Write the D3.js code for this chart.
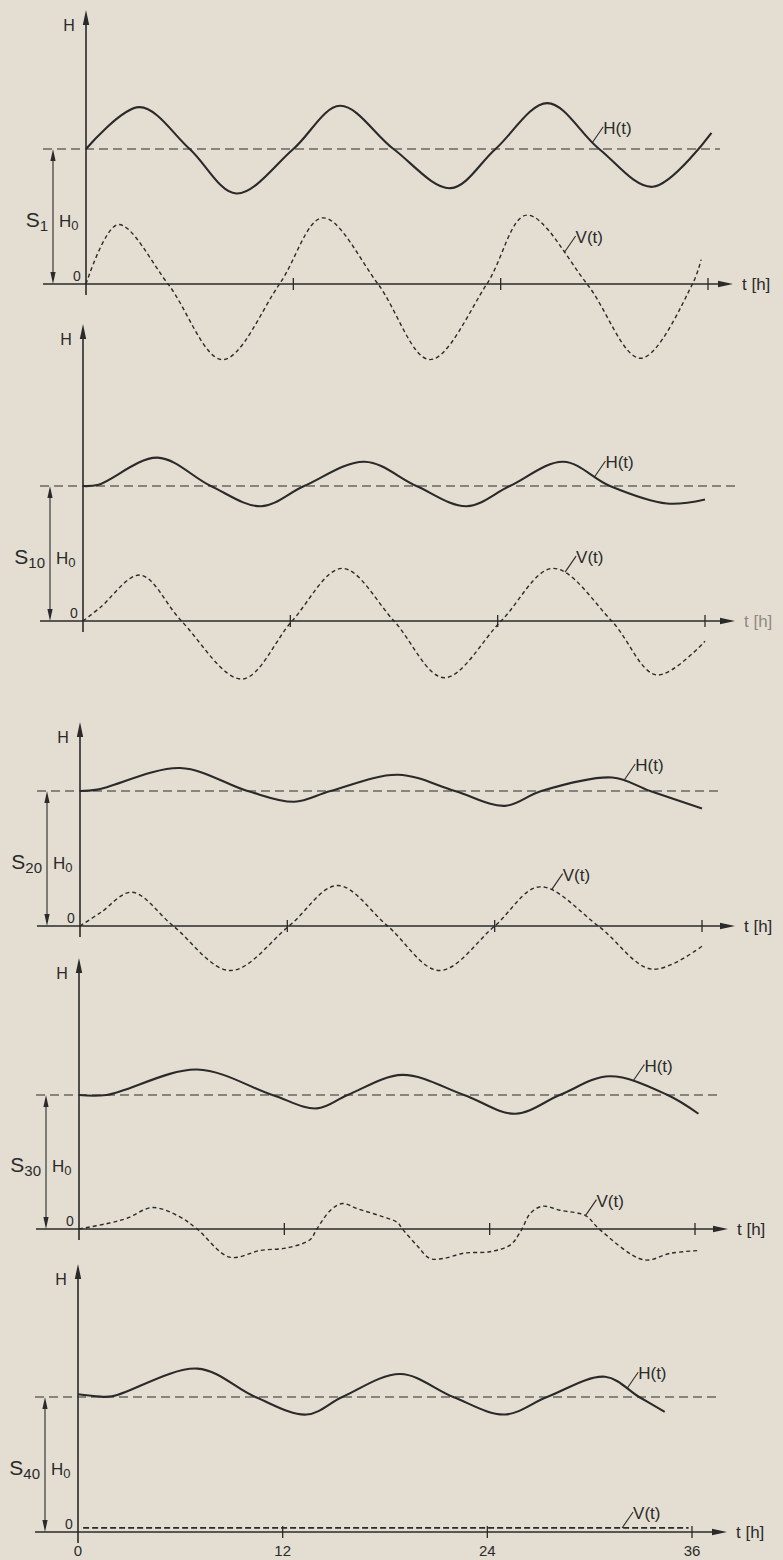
<!DOCTYPE html>
<html>
<head>
<meta charset="utf-8">
<script src="https://cdn.jsdelivr.net/npm/d3@7"></script>
<style>
  body { margin: 0; background: #e4ded2; }
  svg { display: block; }
  text { font-family: "Liberation Sans", "DejaVu Sans", sans-serif; fill: #2a2a2a; }
</style>
</head>
<body>
<div id="container"></div>
<script>
/** CONSTANTS AND GLOBALS */
const width = 783, height = 1560;
const ink = "#2a2a2a";
const paper = "#e4ded2";

/** DATA */
const hours = [0, 12, 24, 36];
const stations = ["1", "10", "20", "30", "40"];
const H0 = 10;

// H(t) readings [t in h, level], H0 = 10
const hS1 = [[0, 10], [3.1, 13.1], [6.0, 10], [8.7, 6.7], [12.0, 10], [14.7, 13.2], [17.8, 10], [21.1, 7.1], [23.7, 10], [26.7, 13.4], [29.7, 10], [32.8, 7.2], [36.2, 11.2]];
const hS10 = [[0, 10], [0.9, 10.1], [4.3, 12.1], [7.4, 10], [10.3, 8.5], [12.8, 10], [16.3, 11.8], [19.3, 10], [22.2, 8.5], [24.7, 10], [27.8, 11.8], [30.5, 10], [33.8, 8.7], [36, 9.0]];
const hS20 = [[0, 10], [1, 10.1], [5.8, 11.7], [9.7, 10], [12.4, 9.2], [14.5, 10], [18.4, 11.2], [21.7, 10], [24.6, 8.9], [26.7, 10], [30.8, 11.0], [33, 10], [36, 8.7]];
const hS30 = [[0, 10], [1.6, 10.0], [6.9, 11.9], [11.3, 10], [13.9, 9.0], [15.7, 10], [18.9, 11.5], [22.5, 10], [25.5, 8.6], [28.1, 10], [31.0, 11.4], [34.4, 10], [36.2, 8.6]];
const hS40 = [[0, 10.2], [1.1, 10.05], [2.0, 10.05], [7.0, 12.1], [10.4, 10], [13.4, 8.7], [15.5, 10], [18.9, 11.7], [22, 10], [25.0, 8.7], [27.5, 10], [30.9, 11.5], [32.9, 10], [34.4, 8.9]];

// V(t) readings [t in h, velocity]
const vS1 = [[0, 0], [1.85, 4.4], [4.75, 0], [7.9, -5.6], [11.2, 0], [13.7, 4.9], [16.9, 0], [19.9, -5.6], [23.2, 0], [25.5, 5.1], [29.0, 0], [32.1, -5.5], [35.1, 0], [35.6, 1.8]];
const vS10 = [[0, 0], [1.0, 1.0], [3.3, 3.4], [5.7, 0], [9.2, -4.3], [12.1, 0], [15.0, 3.9], [18.0, 0], [20.9, -4.2], [24.2, 0], [27.2, 3.9], [30.6, 0], [33.2, -4.0], [36, -1.5]];
const vS20 = [[0, 0], [1.2, 1.0], [3.0, 2.5], [5.4, 0], [8.7, -3.3], [12.1, 0], [14.9, 3.0], [17.8, 0], [20.8, -3.3], [24.0, 0], [26.6, 2.9], [30.0, 0], [33.1, -3.2], [36, -1.5]];
const vS30 = [[0, 0], [1.8, 0.45], [2.8, 0.8], [4.3, 1.6], [5.9, 0.9], [6.9, 0], [8.8, -2.1], [10.6, -1.6], [12.2, -1.4], [13.5, -0.8], [13.9, 0], [14.7, 1.4], [15.4, 1.9], [16.3, 1.5], [17.8, 0.9], [18.6, 0.5], [18.9, 0], [19.8, -1.3], [20.5, -2.2], [21.3, -2.2], [22.5, -1.8], [24.0, -1.7], [25.2, -1.2], [25.8, -0.2], [26.4, 1.2], [27.1, 1.7], [28.1, 1.4], [29.6, 1.0], [30.4, 0], [33.0, -2.3], [34.6, -1.8], [36.3, -1.6]];
const vS40 = [[0.3, 0.3], [35.8, 0.3]];

const hSeries = [hS1, hS10, hS20, hS30, hS40];
const vSeries = [vS1, vS10, vS20, vS30, vS40];

// where the H(t) / V(t) captions point, in hours
const hLabelT = [29.3, 29.6, 31.5, 32.4, 32.2];
const vLabelT = [27.7, 27.9, 27.3, 29.6, 31.9];

/** LAYOUT (pixels, per panel; the scan is slightly skewed) */
const panels = [
  { x0: 86, x36: 708, top: 10, h0y: 149, base: 284, end: 733, h0End: 720 },
  { x0: 83, x36: 705, top: 324, h0y: 486, base: 621, end: 735, h0End: 740 },
  { x0: 80, x36: 702, top: 722, h0y: 791, base: 926, end: 735, h0End: 720 },
  { x0: 79, x36: 695, top: 958, h0y: 1095, base: 1229, end: 728, h0End: 718 },
  { x0: 78, x36: 692, top: 1264, h0y: 1397, base: 1532, end: 727, h0End: 718 }
];

let svg;

/** HELPERS */
function pointAtX(node, px) {
  let lo = 0, hi = node.getTotalLength();
  for (let k = 0; k < 30; k++) {
    const mid = (lo + hi) / 2;
    if (node.getPointAtLength(mid).x < px) lo = mid; else hi = mid;
  }
  return node.getPointAtLength(lo);
}

function tri(g, pts) {
  g.append("path")
    .attr("d", "M" + pts.map(p => p.join(",")).join("L") + "Z")
    .attr("fill", ink);
}

/** INIT */
function init() {
  svg = d3.select("#container")
    .append("svg")
    .attr("width", width)
    .attr("height", height);

  svg.append("rect").attr("width", width).attr("height", height).attr("fill", paper);

  panels.forEach((p, i) => draw(p, i));
}

/** DRAW ONE PANEL */
function draw(p, i) {
  const x = d3.scaleLinear().domain([0, 36]).range([p.x0, p.x36]);
  const y = d3.scaleLinear().domain([0, H0]).range([p.base, p.h0y]);
  const g = svg.append("g").attr("class", "panel");

  const left = p.x0 - 43;
  const dimX = p.x0 - 33;

  // mean level H0
  g.append("line")
    .attr("x1", left).attr("x2", p.h0End)
    .attr("y1", y(H0)).attr("y2", y(H0))
    .attr("stroke", ink).attr("stroke-width", 1.2)
    .attr("stroke-dasharray", "9,5");

  // time axis
  const faint = i === 1;
  g.append("line")
    .attr("x1", left).attr("x2", p.end - 8)
    .attr("y1", y(0)).attr("y2", y(0))
    .attr("stroke", ink).attr("stroke-width", 1.6);
  tri(g, [[p.end, y(0)], [p.end - 15, y(0) - 3.2], [p.end - 15, y(0) + 3.2]]);

  g.selectAll(".tick")
    .data(hours.slice(1))
    .join("line")
    .attr("x1", d => x(d)).attr("x2", d => x(d))
    .attr("y1", y(0) - 6).attr("y2", y(0) + 6)
    .attr("stroke", ink).attr("stroke-width", 1.3);

  g.append("text")
    .attr("x", p.end + 9).attr("y", y(0) + 6)
    .attr("font-size", 17)
    .style("fill", faint ? "#8e8a82" : ink)
    .text("t [h]");

  // H axis
  g.append("line")
    .attr("x1", p.x0).attr("x2", p.x0)
    .attr("y1", y(0) + 11).attr("y2", p.top + 6)
    .attr("stroke", ink).attr("stroke-width", 1.6);
  tri(g, [[p.x0, p.top], [p.x0 - 3.2, p.top + 15], [p.x0 + 3.2, p.top + 15]]);

  g.append("text")
    .attr("x", p.x0 - 17).attr("y", p.top + 21)
    .attr("text-anchor", "middle").attr("font-size", 16)
    .text("H");

  g.append("text")
    .attr("x", p.x0 - 9).attr("y", y(0) - 3)
    .attr("text-anchor", "middle").attr("font-size", 14)
    .text("0");

  // dimension H0
  g.append("line")
    .attr("x1", dimX).attr("x2", dimX)
    .attr("y1", y(H0) + 4).attr("y2", y(0) - 4)
    .attr("stroke", ink).attr("stroke-width", 1.1);
  tri(g, [[dimX, y(H0)], [dimX - 2.6, y(H0) + 12], [dimX + 2.6, y(H0) + 12]]);
  tri(g, [[dimX, y(0)], [dimX - 2.6, y(0) - 12], [dimX + 2.6, y(0) - 12]]);

  const midY = (y(H0) + y(0)) / 2 + 10;
  const sLab = g.append("text")
    .attr("x", p.x0 - 38).attr("y", midY)
    .attr("text-anchor", "end").attr("font-size", 21);
  sLab.append("tspan").text("S");
  sLab.append("tspan").attr("font-size", 15).attr("dy", 4).text(stations[i]);

  const hLab = g.append("text")
    .attr("x", dimX + 6).attr("y", midY)
    .attr("font-size", 17);
  hLab.append("tspan").text("H");
  hLab.append("tspan").attr("font-size", 13).attr("dy", 3).text("0");

  // curves
  const line = d3.line()
    .x(d => x(d[0]))
    .y(d => y(d[1]))
    .curve(d3.curveCatmullRom.alpha(0.5));

  const hPath = g.append("path")
    .datum(hSeries[i])
    .attr("d", line)
    .attr("fill", "none")
    .attr("stroke", ink)
    .attr("stroke-width", 2.1);

  const vPath = g.append("path")
    .datum(vSeries[i])
    .attr("d", line)
    .attr("fill", "none")
    .attr("stroke", ink)
    .attr("stroke-width", i === 4 ? 1.7 : 1.4)
    .attr("stroke-dasharray", i === 4 ? "6,3" : "4,3");

  // captions with leader lines
  [[hPath, hLabelT[i], "H(t)"], [vPath, vLabelT[i], "V(t)"]].forEach(([path, t, txt]) => {
    const pt = pointAtX(path.node(), x(t));
    g.append("line")
      .attr("x1", pt.x).attr("y1", pt.y)
      .attr("x2", pt.x + 11).attr("y2", pt.y - 16)
      .attr("stroke", ink).attr("stroke-width", 1.1);
    g.append("text")
      .attr("x", pt.x + 11).attr("y", pt.y - 9)
      .attr("font-size", 17)
      .text(txt);
  });

  // hour labels only under the last panel
  if (i === panels.length - 1) {
    g.selectAll(".hour")
      .data(hours)
      .join("text")
      .attr("x", d => x(d)).attr("y", y(0) + 24)
      .attr("text-anchor", "middle").attr("font-size", 15)
      .text(d => d);
  }
}

init();
</script>
</body>
</html>
